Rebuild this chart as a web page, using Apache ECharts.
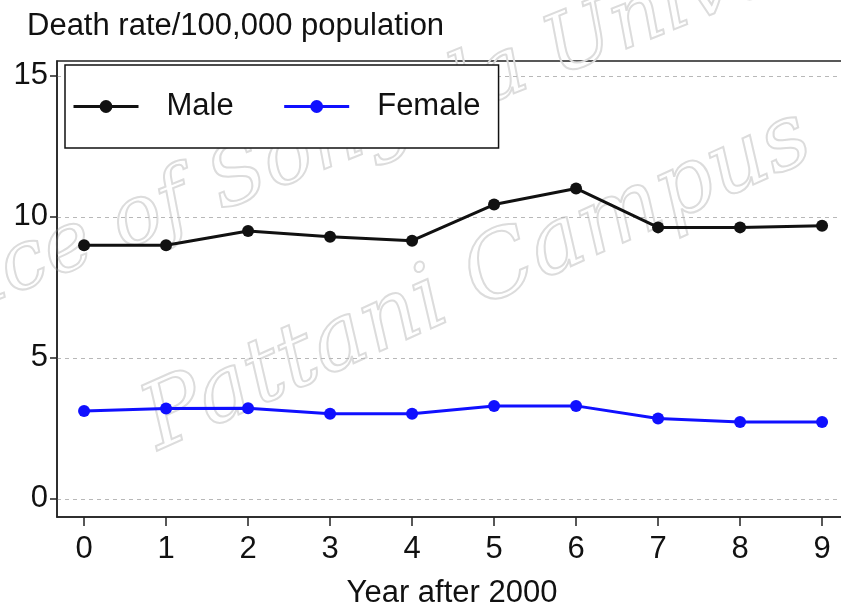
<!DOCTYPE html>
<html>
<head>
<meta charset="utf-8">
<script src="https://cdn.jsdelivr.net/npm/echarts@6/dist/echarts.min.js"></script>
<style>
  html, body { margin: 0; padding: 0; background: #fff; }
  #container { width: 841px; height: 608px; }
</style>
</head>
<body>
<div id="container"></div>
<script type="text/javascript">
// data
var years = [0, 1, 2, 3, 4, 5, 6, 7, 8, 9];
var male = [9.0, 9.0, 9.5, 9.3, 9.16, 10.44, 11.01, 9.63, 9.63, 9.69];
var female = [3.12, 3.21, 3.22, 3.02, 3.02, 3.30, 3.30, 2.85, 2.73, 2.73];
var yTicks = [0, 5, 10, 15];

function pairs(vals) {
  return years.map(function (x, i) { return [x, vals[i]]; });
}

var FONT = '"Liberation Sans", Arial, sans-serif';
var myChart = echarts.init(document.getElementById('container'));

var option = {
  animation: false,
  backgroundColor: '#fff',
  title: {
    text: 'Death rate/100,000 population',
    left: 22, top: 6,
    textStyle: { fontFamily: FONT, fontSize: 31, fontWeight: 'normal', color: '#111' }
  },
  // watermark
  graphic: [
    {
      type: 'text', x: 395, y: 118, rotation: 0.38, z: 0,
      style: {
        text: 'Prince of Songkla University', align: 'center', verticalAlign: 'middle',
        font: 'italic 82px "DejaVu Serif"', fill: 'rgba(255,255,255,0)',
        stroke: '#dcdcdc', lineWidth: 2
      }
    },
    {
      type: 'text', x: 478, y: 282, rotation: 0.42, z: 0,
      style: {
        text: 'Pattani Campus', align: 'center', verticalAlign: 'middle',
        font: 'italic 90px "DejaVu Serif"', fill: 'rgba(255,255,255,0)',
        stroke: '#dcdcdc', lineWidth: 2
      }
    }
  ],
  legend: {
    left: 65, top: 65,
    padding: [26, 18, 26, 7],
    borderColor: '#111', borderWidth: 1.5,
    backgroundColor: '#fff',
    itemWidth: 65, itemHeight: 16, itemGap: 49,
    lineStyle: { width: 3 },
    textStyle: { fontFamily: FONT, fontSize: 31, color: '#111', padding: [0, 0, 0, 23] },
    data: ['Male', 'Female']
  },
  grid: {
    left: 57, top: 61, width: 800, bottom: 91,
    outerBoundsMode: 'none', containLabel: false,
    show: true, borderColor: '#222', borderWidth: 1.5
  },
  xAxis: {
    type: 'value',
    min: -0.33, max: -0.33 + 800 / 82,
    name: 'Year after 2000', nameLocation: 'middle', nameGap: 61,
    nameTextStyle: { fontFamily: FONT, fontSize: 31, color: '#111', padding: [0, 10, 0, 0] },
    axisLine: { show: true, onZero: false, lineStyle: { color: '#222', width: 1.5 } },
    axisTick: { show: true, length: 9, customValues: years, lineStyle: { color: '#222', width: 1.5 } },
    axisLabel: { customValues: years, margin: 17, fontFamily: FONT, fontSize: 31, color: '#111' },
    splitLine: { show: false }
  },
  yAxis: {
    type: 'value',
    min: -0.64, max: 15.53,
    axisLine: { show: true, onZero: false, lineStyle: { color: '#222', width: 1.5 } },
    axisTick: { show: true, length: 7, customValues: yTicks, lineStyle: { color: '#222', width: 1.5 } },
    axisLabel: { customValues: yTicks, margin: 9, padding: [7, 0, 0, 0], fontFamily: FONT, fontSize: 31, color: '#111' },
    splitLine: { show: true, lineStyle: { color: '#b8b8b8', type: [4, 4], width: 1 } }
  },
  series: [
    {
      name: 'Male', type: 'line', z: 5,
      data: pairs(male),
      symbol: 'circle', symbolSize: 12,
      itemStyle: { color: '#111' },
      lineStyle: { color: '#111', width: 3 }
    },
    {
      name: 'Female', type: 'line', z: 5,
      data: pairs(female),
      symbol: 'circle', symbolSize: 12,
      itemStyle: { color: '#1010ff' },
      lineStyle: { color: '#1010ff', width: 3 }
    }
  ]
};
myChart.setOption(option);
</script>
</body>
</html>
